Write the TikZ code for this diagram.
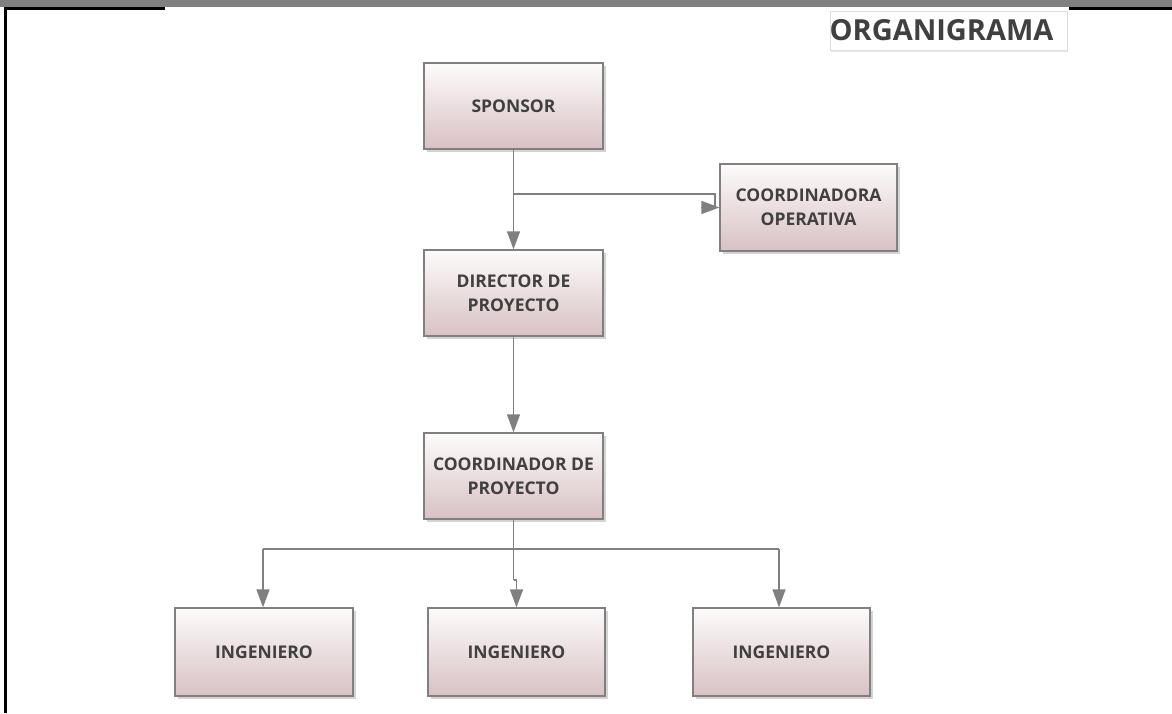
\documentclass[tikz,border=0pt]{standalone}
\usepackage{fontspec}
\setmainfont{Open Sans}
\usetikzlibrary{arrows.meta,shadows,calc}
\definecolor{linegray}{HTML}{808080}
\definecolor{txtgray}{HTML}{404040}
\definecolor{boxtop}{HTML}{FDFBFB}
\definecolor{boxbottom}{HTML}{D8C1C4}
\tikzset{
  orgbox/.style={draw=linegray, line width=1.3pt, top color=boxtop, bottom color=boxbottom,
    inner sep=0pt, align=center, text=txtgray,
    font=\fontsize{17.5}{24}\selectfont\bfseries,
    drop shadow={shadow xshift=2.5pt, shadow yshift=-2.5pt, opacity=0.35, fill=gray}},
  link/.style={draw=linegray, line width=1.4pt},
  linkarrow/.style={link, -{Triangle[length=18pt,width=13pt]}},
}
\begin{document}
\begin{tikzpicture}[x=1pt,y=-1pt]
\useasboundingbox (0,0) rectangle (1172,713);
% page frame
\fill[linegray] (0,0) rectangle (1172,7);
\fill[black] (5,7) rectangle (165,9.5);
\fill[black] (1069,7) rectangle (1172,9.5);
\fill[black] (4,7) rectangle (6.5,713);

% title
\node[draw=gray!25, line width=1pt, fill=white, minimum width=237pt, minimum height=39pt,
      inner sep=0pt, text=txtgray, font=\fontsize{29}{30}\selectfont\bfseries,
      drop shadow={shadow xshift=1pt, shadow yshift=-1.5pt, opacity=0.2, fill=gray}]
  (title) at (948.5,30.5) {\hspace*{-14pt}ORGANIGRAMA};

% boxes
\node[orgbox, minimum width=179pt, minimum height=86pt] (sp)  at (513.5,106)   {SPONSOR};
\node[orgbox, minimum width=177pt, minimum height=87pt] (cop) at (808.5,207.5) {COORDINADORA\\OPERATIVA};
\node[orgbox, minimum width=179pt, minimum height=86pt] (dir) at (513.5,293)   {DIRECTOR DE\\PROYECTO};
\node[orgbox, minimum width=179pt, minimum height=86pt] (cdp) at (513.5,476)   {COORDINADOR DE\\PROYECTO};
\node[orgbox, minimum width=178pt, minimum height=88pt] (ing1) at (264,652)   {INGENIERO};
\node[orgbox, minimum width=177pt, minimum height=88pt] (ing2) at (516.5,652) {INGENIERO};
\node[orgbox, minimum width=177pt, minimum height=88pt] (ing3) at (781.5,652) {INGENIERO};

% connector junctions
\coordinate (branch) at (513.5,194);
\coordinate (elbow)  at (715,194);
\coordinate (busL)   at (263,549);
\coordinate (busR)   at (779,549);
\coordinate (jog)    at (513.5,580);

% connectors
\draw[linkarrow] (sp.south) -- (dir.north);
\draw[link] (branch) -- (elbow) -- (elbow |- cop.west);
\draw[linkarrow] (elbow |- cop.west) ++(-14pt,0) -- (cop.west);
\draw[linkarrow] (dir.south) -- (cdp.north);
\draw[link] (cdp.south) -- (jog);
\draw[link] (busL) -- (busR);
\draw[linkarrow] (jog) -- (jog -| ing2.north) -- (ing2.north);
\draw[linkarrow] (busL) -- (busL |- ing1.north);
\draw[linkarrow] (busR) -- (busR |- ing3.north);
\end{tikzpicture}
\end{document}
